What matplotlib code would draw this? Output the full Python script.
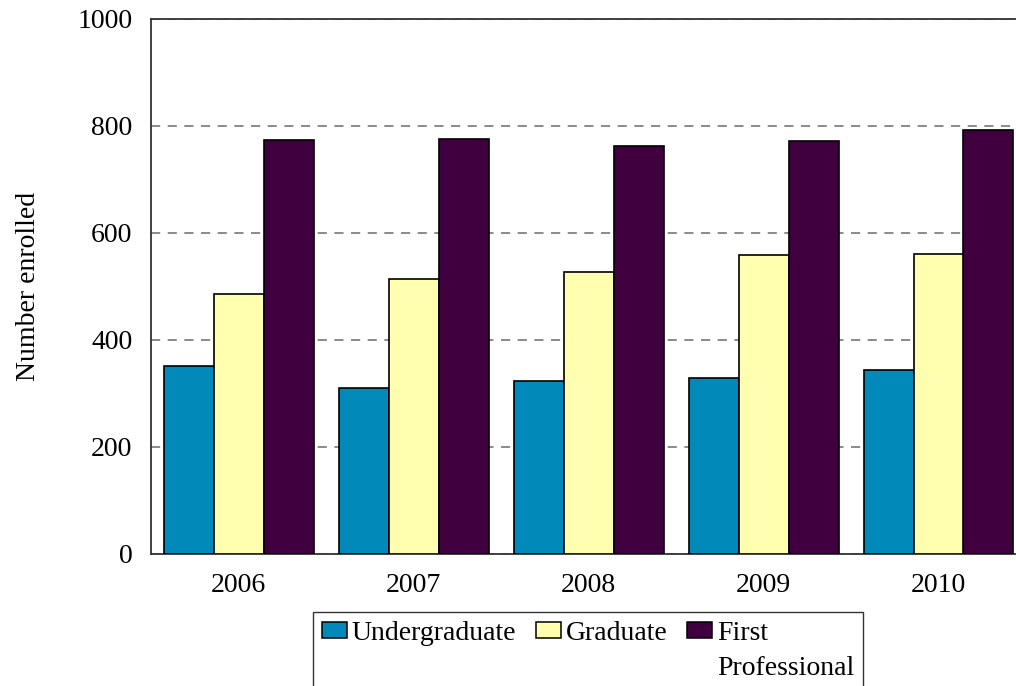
import matplotlib
matplotlib.use("Agg")
import matplotlib.pyplot as plt
from matplotlib.patches import Patch
import numpy as np

years = ["2006", "2007", "2008", "2009", "2010"]
undergraduate = [350, 309, 323, 329, 343]
graduate = [486, 513, 527, 559, 560]
first_professional = [773, 776, 762, 771, 792]
series_names = ["Undergraduate", "Graduate", "First", "Professional"]
y_ticks = [0, 200, 400, 600, 800, 1000]

plt.rcParams['font.family'] = ['Liberation Serif', 'DejaVu Serif']
plt.rcParams['font.size'] = 20

W, H = 1016, 686
fig = plt.figure(figsize=(W / 100, H / 100), dpi=100)
ax = fig.add_axes([151 / W, 1 - 553.7 / H, 875 / W, 535 / H])

colors = ["#0189BA", "#FFFFAF", "#40003F"]
x = np.arange(len(years))
bw = 150 / 175 / 3
for i, (vals, c) in enumerate(zip([undergraduate, graduate, first_professional], colors)):
    ax.bar(x + (i - 1) * bw, vals, width=bw, color=c, edgecolor="black",
           linewidth=1.2, zorder=3)

ax.set_xlim(-0.5, len(years) - 0.5)
ax.set_ylim(0, 1000)
ax.set_yticks(y_ticks)
ax.set_xticks(x)
ax.set_xticklabels(years)
ax.tick_params(axis="both", length=0)
ax.tick_params(axis="y", pad=13.5)
ax.tick_params(axis="x", pad=14)
ax.set_ylabel("Number enrolled", labelpad=26)

ax.yaxis.grid(True, color="#777777", linestyle=(0, (5.5, 4.5)), linewidth=1.2, zorder=0)
ax.set_axisbelow(True)
for s in ["left", "bottom", "top"]:
    ax.spines[s].set_color("#333333")
    ax.spines[s].set_linewidth(1.3)
ax.spines["right"].set_visible(False)

blank = Patch(facecolor="none", edgecolor="none")
handles = [Patch(facecolor=colors[0], edgecolor="black", linewidth=1.1), blank,
           Patch(facecolor=colors[1], edgecolor="black", linewidth=1.1), blank,
           Patch(facecolor=colors[2], edgecolor="black", linewidth=1.1), blank]
labels = [series_names[0], " ", series_names[1], " ", series_names[2], series_names[3]]
leg = fig.legend(handles, labels, ncol=3, loc="upper left",
                 bbox_to_anchor=(313 / W, 1 - 612 / H), bbox_transform=fig.transFigure,
                 borderaxespad=0, fancybox=False, frameon=True, edgecolor="black",
                 handlelength=0.9, handleheight=0.52, handletextpad=0.18,
                 columnspacing=0.7, borderpad=0.32, labelspacing=0.35, fontsize=20)
leg.get_frame().set_linewidth(1.0)

fig.savefig("out.png", dpi=100)
